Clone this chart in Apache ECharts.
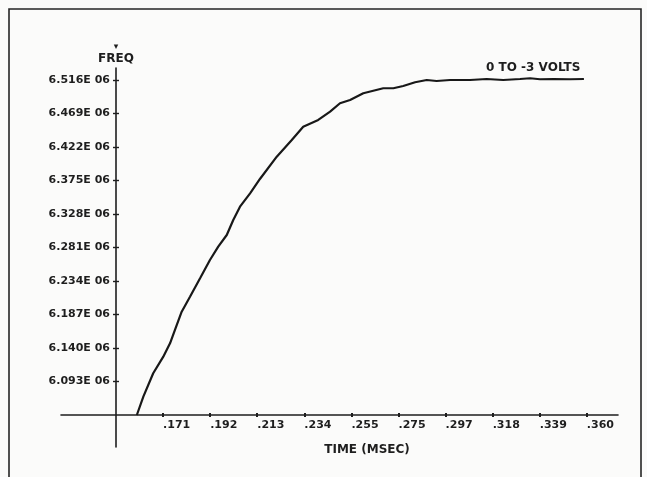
<!DOCTYPE html>
<html>
<head>
<meta charset="utf-8">
<script src="https://cdn.jsdelivr.net/npm/echarts@6/dist/echarts.min.js"></script>
<style>
  html, body { margin: 0; padding: 0; background: #fbfbfa; }
  #chart { width: 647px; height: 477px; }
</style>
</head>
<body>
<div id="chart"></div>
<script>
// Time in msec
const timeMs = [0.1593, 0.1622, 0.1666, 0.1711, 0.1741, 0.1763, 0.1793, 0.1830, 0.1875, 0.1919,
  0.1956, 0.1994, 0.2023, 0.2053, 0.2098, 0.2142, 0.2217, 0.2284, 0.2335, 0.2402,
  0.2455, 0.2499, 0.2544, 0.2603, 0.2692, 0.2737, 0.2781, 0.2834, 0.2886, 0.2930,
  0.2990, 0.3079, 0.3153, 0.3227, 0.3302, 0.3347, 0.3391, 0.3451, 0.3525, 0.3587];
// Frequency in units of 1E 06
const freqE6 = [6.0460, 6.0717, 6.1045, 6.1278, 6.1466, 6.1653, 6.1909, 6.2120, 6.2378, 6.2635,
  6.2821, 6.2985, 6.3196, 6.3382, 6.3570, 6.3771, 6.4084, 6.4318, 6.4505, 6.4599,
  6.4715, 6.4833, 6.4879, 6.4973, 6.5044, 6.5044, 6.5076, 6.5128, 6.5160, 6.5146,
  6.5160, 6.5160, 6.5174, 6.5160, 6.5174, 6.5184, 6.5170, 6.5174, 6.5170, 6.5174];

const xTickValues = [0.171, 0.192, 0.213, 0.234, 0.255, 0.276, 0.297, 0.318, 0.339, 0.360];
const xTickLabels = ['.171', '.192', '.213', '.234', '.255', '.275', '.297', '.318', '.339', '.360'];
const yTickValues = [6.093, 6.140, 6.187, 6.234, 6.281, 6.328, 6.375, 6.422, 6.469, 6.516];
const yTickLabels = ['6.093E 06', '6.140E 06', '6.187E 06', '6.234E 06', '6.281E 06',
  '6.328E 06', '6.375E 06', '6.422E 06', '6.469E 06', '6.516E 06'];

const seriesName = '0 TO -3 VOLTS';
const xName = 'TIME (MSEC)';
const yName = 'FREQ';

function lookup(values, labels, v) {
  let best = 0, bd = Infinity;
  values.forEach((t, i) => { const d = Math.abs(t - v); if (d < bd) { bd = d; best = i; } });
  return bd < 1e-4 ? labels[best] : '';
}

const FONT = 'DejaVu Sans';
const INK = '#1e1e1e';
const X_MIN = 0.12547, X_MAX = 0.3739;
const Y_MIN = 6.0011, Y_MAX = 6.5328;

const chart = echarts.init(document.getElementById('chart'), null, { renderer: 'canvas' });

const baseX = {
  type: 'value', min: X_MIN, max: X_MAX, position: 'bottom', offset: -32,
  splitLine: { show: false }
};
const baseY = {
  type: 'value', min: Y_MIN, max: Y_MAX, position: 'left', offset: -55,
  splitLine: { show: false }
};

chart.setOption({
  backgroundColor: '#fbfbfa',
  animation: false,
  grid: { left: 61, right: 29, top: 68, bottom: 30 },
  title: {
    text: seriesName, left: 481, top: 57,
    textStyle: { fontFamily: FONT, fontWeight: 'bold', fontSize: 12, color: INK }
  },
  graphic: [{
    type: 'rect', shape: { x: 9, y: 9, width: 632, height: 490 },
    style: { fill: 'none', stroke: '#262626', lineWidth: 1.6 }, silent: true
  }],
  xAxis: [
    Object.assign({}, baseX, {
      name: xName, nameLocation: 'middle', nameGap: 29,
      nameTextStyle: { fontFamily: FONT, fontWeight: 'bold', fontSize: 12, color: INK, padding: [0, 0, 0, 55] },
      axisLine: { show: true, onZero: false, lineStyle: { color: INK, width: 1.6 } },
      axisTick: { show: true, customValues: xTickValues, length: 2, lineStyle: { color: INK, width: 2 } },
      axisLabel: {
        show: true, customValues: xTickValues, align: 'left', margin: 5,
        fontFamily: FONT, fontWeight: 'bold', fontSize: 11, color: INK,
        formatter: v => lookup(xTickValues, xTickLabels, v)
      }
    }),
    Object.assign({}, baseX, {
      axisLine: { show: false, onZero: false },
      axisTick: { show: true, inside: true, customValues: xTickValues, length: 2, lineStyle: { color: INK, width: 2 } },
      axisLabel: { show: false }
    })
  ],
  yAxis: [
    Object.assign({}, baseY, {
      name: '{m|▾}\n{f|' + yName + '}', nameLocation: 'end', nameGap: 3,
      nameTextStyle: {
        align: 'center',
        rich: {
          m: { fontFamily: FONT, fontSize: 9, lineHeight: 10, color: INK, align: 'center' },
          f: { fontFamily: FONT, fontWeight: 'bold', fontSize: 12, lineHeight: 13, color: INK, align: 'center' }
        }
      },
      axisLine: { show: true, onZero: false, lineStyle: { color: INK, width: 1.6 } },
      axisTick: { show: true, customValues: yTickValues, length: 3, lineStyle: { color: INK, width: 1.4 } },
      axisLabel: {
        show: true, customValues: yTickValues, margin: 6,
        fontFamily: FONT, fontWeight: 'bold', fontSize: 11, color: INK,
        formatter: v => lookup(yTickValues, yTickLabels, v)
      }
    }),
    Object.assign({}, baseY, {
      axisLine: { show: false, onZero: false },
      axisTick: { show: true, inside: true, customValues: yTickValues, length: 3, lineStyle: { color: INK, width: 1.4 } },
      axisLabel: { show: false }
    })
  ],
  series: [{
    name: seriesName, type: 'line', xAxisIndex: 0, yAxisIndex: 0,
    showSymbol: false, smooth: false,
    lineStyle: { color: '#181818', width: 2.2 },
    data: timeMs.map((t, i) => [t, freqE6[i]])
  }]
});
</script>
</body>
</html>
